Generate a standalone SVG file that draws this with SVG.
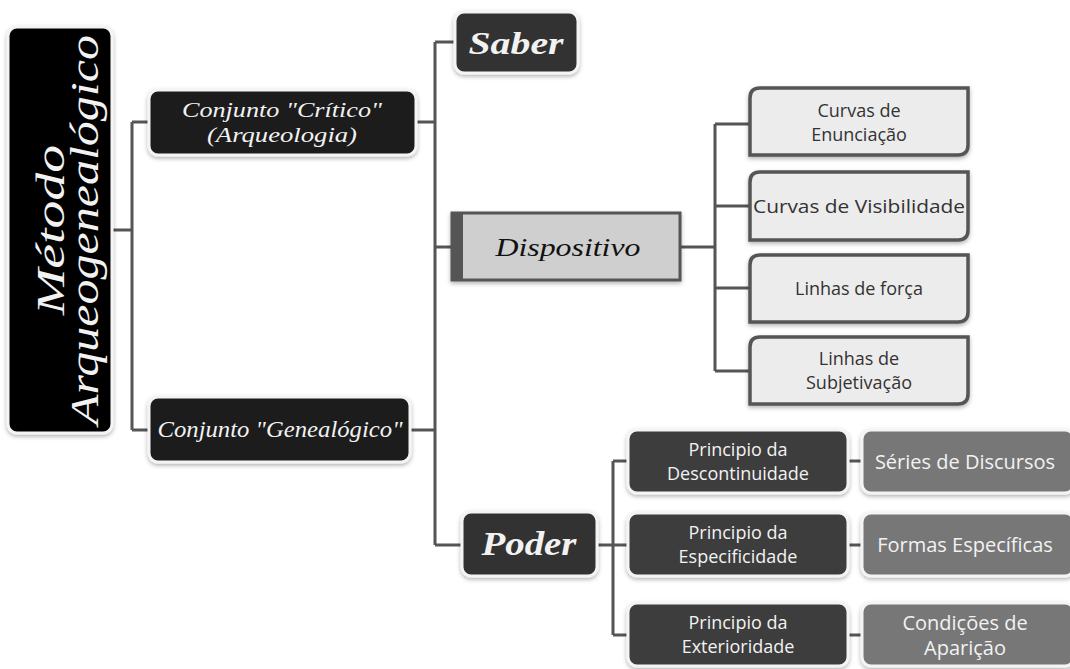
<svg xmlns="http://www.w3.org/2000/svg" width="1070" height="669" viewBox="0 0 1070 669">
<style>
.bg{fill:#ffffff}
.conn{fill:none;stroke:#555;stroke-width:3}
.dark{stroke:#f4f4f4;stroke-width:3;filter:url(#sh)}
.script{font-family:"Liberation Serif","DejaVu Serif",serif;font-style:italic;fill:#f2f2f2;text-anchor:middle}
.sans{font-family:"Open Sans",Lato,"Liberation Sans",sans-serif;text-anchor:middle}
.lt{fill:#ececec;stroke:#555;stroke-width:3.5;filter:url(#sh)}
.ltxt{fill:#333;font-size:18px}
.wtxt{fill:#f2f2f2;font-size:18px}
.rtxt{fill:#f2f2f2;font-size:20px}
</style>
<defs>
<filter id="sh" x="-10%" y="-10%" width="120%" height="130%">
<feDropShadow dx="0" dy="2" stdDeviation="2" flood-color="#000" flood-opacity="0.3"/>
</filter>
</defs>
<rect class="bg" x="0" y="0" width="1070" height="669"/>
<g id="connectors">
<path class="conn" d="M112,230 H132 M132,122 V430 M132,122 H150 M132,430 H150"/>
<path class="conn" d="M415,122 H435 M410,430 H435 M435,42 V545 M435,42 H455 M435,247 H452 M435,545 H462"/>
<path class="conn" d="M680,247 H715 M715,124 V371 M715,124 H750 M715,206 H750 M715,288 H750 M715,371 H750"/>
<path class="conn" d="M597,545 H613 M613,461 V635 M613,461 H628 M613,545 H628 M613,635 H628"/>
<path class="conn" d="M848,461 H862 M848,545 H862 M848,635 H862"/>
</g>
<g id="metodo">
<rect class="dark" x="8" y="27" width="104" height="406" rx="9" fill="#050505"/>
<g transform="translate(58,230) rotate(-90)">
<text class="script" x="0" y="6" font-size="40" textLength="170" lengthAdjust="spacingAndGlyphs">Método</text>
<text class="script" x="0" y="40" font-size="40" textLength="390" lengthAdjust="spacingAndGlyphs">Arqueogenealógico</text>
</g>
</g>
<g id="critico">
<rect class="dark" x="149" y="90" width="267" height="65" rx="9" fill="#1e1e1e"/>
<text class="script" x="282" y="117" font-size="22" textLength="200" lengthAdjust="spacingAndGlyphs">Conjunto "Crítico"</text>
<text class="script" x="282" y="142" font-size="22" textLength="150" lengthAdjust="spacingAndGlyphs">(Arqueologia)</text>
</g>
<g id="genealogico">
<rect class="dark" x="149" y="397" width="261" height="65" rx="9" fill="#1e1e1e"/>
<text class="script" x="280" y="437" font-size="23" textLength="245" lengthAdjust="spacingAndGlyphs">Conjunto "Genealógico"</text>
</g>
<g id="saber">
<rect class="dark" x="455" y="12" width="123" height="61" rx="9" fill="#333"/>
<text class="script" x="516" y="54" font-size="32" font-weight="bold" textLength="95" lengthAdjust="spacingAndGlyphs">Saber</text>
</g>
<g id="dispositivo">
<rect x="452" y="213" width="228" height="67" fill="#cfcfcf" stroke="#555" stroke-width="3" filter="url(#sh)"/>
<rect x="452" y="213" width="11" height="67" fill="#555"/>
<text class="script" x="568" y="256" font-size="25" style="fill:#111" textLength="145" lengthAdjust="spacingAndGlyphs">Dispositivo</text>
</g>
<g id="curvas-enunciacao">
<path class="lt" d="M760,88 H968 V145 Q968,155 958,155 H750 V98 Q750,88 760,88 Z"/>
<text class="sans ltxt" x="859" y="117">Curvas de</text>
<text class="sans ltxt" x="859" y="141">Enunciação</text>
</g>
<g id="curvas-visibilidade">
<path class="lt" d="M760,172 H968 V230 Q968,240 958,240 H750 V182 Q750,172 760,172 Z"/>
<text class="sans ltxt" x="859" y="213" textLength="212" lengthAdjust="spacingAndGlyphs">Curvas de Visibilidade</text>
</g>
<g id="linhas-forca">
<path class="lt" d="M760,255 H968 V312 Q968,322 958,322 H750 V265 Q750,255 760,255 Z"/>
<text class="sans ltxt" x="859" y="295">Linhas de força</text>
</g>
<g id="linhas-subjetivacao">
<path class="lt" d="M760,337 H968 V394 Q968,404 958,404 H750 V347 Q750,337 760,337 Z"/>
<text class="sans ltxt" x="859" y="365">Linhas de</text>
<text class="sans ltxt" x="859" y="389">Subjetivação</text>
</g>
<g id="poder">
<rect class="dark" x="462" y="512" width="135" height="64" rx="9" fill="#333"/>
<text class="script" x="529" y="555" font-size="34" font-weight="bold" textLength="95" lengthAdjust="spacingAndGlyphs">Poder</text>
</g>
<g id="principio-descontinuidade">
<rect class="dark" x="628" y="430" width="220" height="63" rx="9" fill="#3c3c3c"/>
<text class="sans wtxt" x="738" y="456">Principio da</text>
<text class="sans wtxt" x="738" y="480">Descontinuidade</text>
</g>
<g id="principio-especificidade">
<rect class="dark" x="628" y="513" width="220" height="63" rx="9" fill="#3c3c3c"/>
<text class="sans wtxt" x="738" y="539">Principio da</text>
<text class="sans wtxt" x="738" y="563">Especificidade</text>
</g>
<g id="principio-exterioridade">
<rect class="dark" x="628" y="603" width="220" height="63" rx="9" fill="#3c3c3c"/>
<text class="sans wtxt" x="738" y="629">Principio da</text>
<text class="sans wtxt" x="738" y="653">Exterioridade</text>
</g>
<g id="series-discursos">
<rect class="dark" x="862" y="430" width="212" height="63" rx="9" fill="#777"/>
<text class="sans rtxt" x="965" y="469">Séries de Discursos</text>
</g>
<g id="formas-especificas">
<rect class="dark" x="862" y="513" width="212" height="63" rx="9" fill="#777"/>
<text class="sans rtxt" x="965" y="552">Formas Específicas</text>
</g>
<g id="condicoes-aparicao">
<rect class="dark" x="862" y="603" width="212" height="63" rx="9" fill="#777"/>
<text class="sans rtxt" x="965" y="630">Condições de</text>
<text class="sans rtxt" x="965" y="655">Aparição</text>
</g>
</svg>
